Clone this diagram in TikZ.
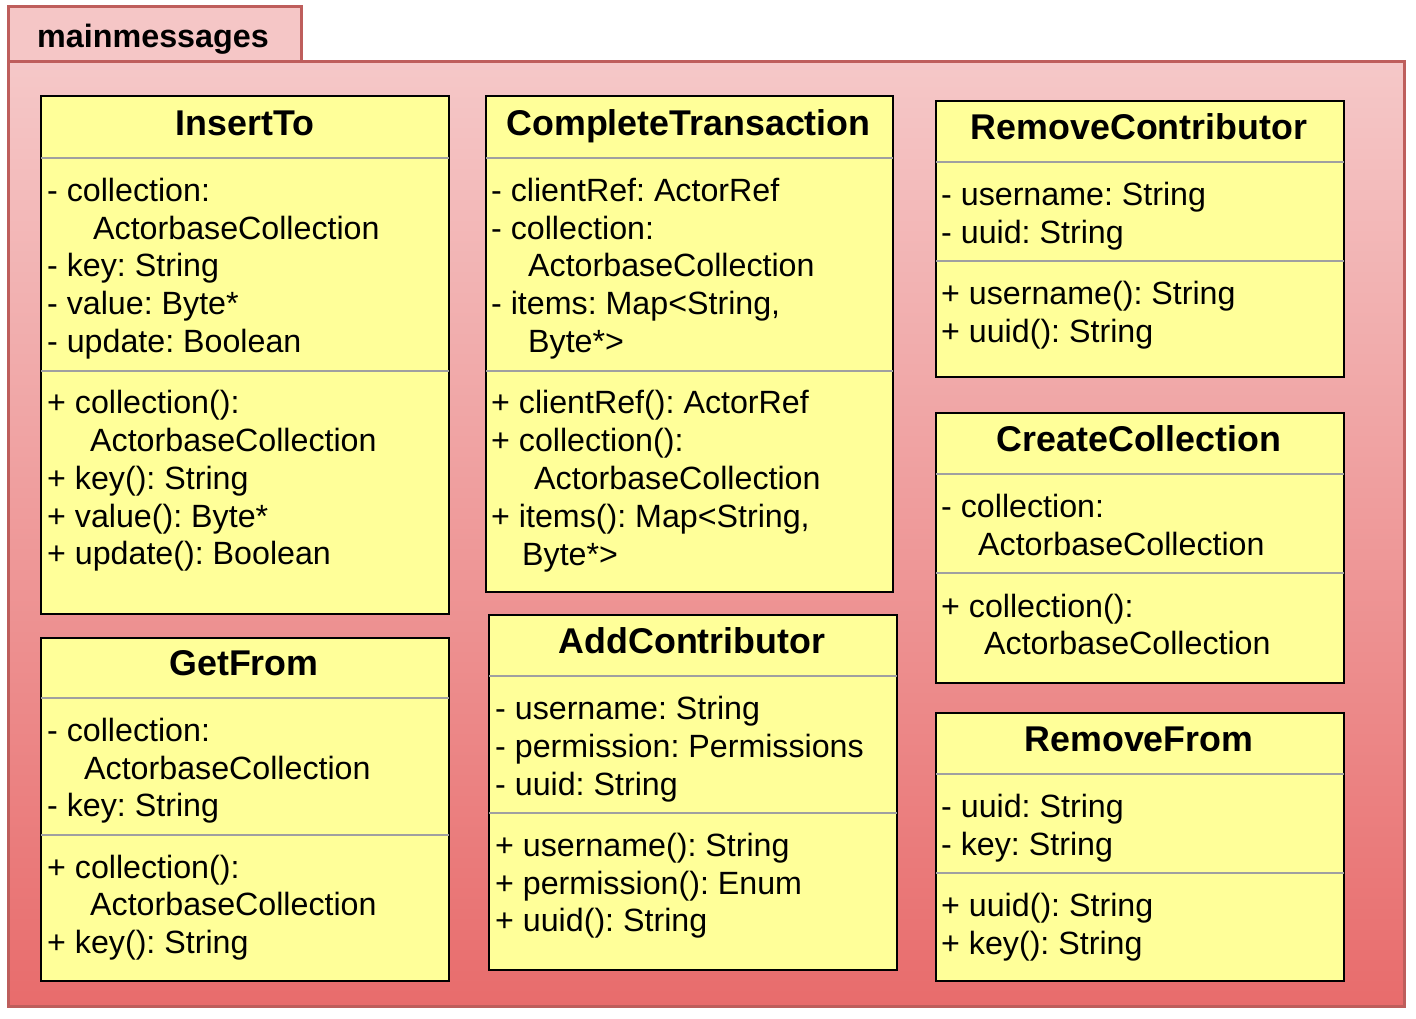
\documentclass[tikz,border=0pt]{standalone}
\usepackage{fontspec}
\setmainfont{Liberation Sans}
\frenchspacing
\definecolor{pkgtop}{HTML}{F5C8C8}
\definecolor{pkgbot}{HTML}{E86C6C}
\definecolor{pkgline}{HTML}{BE5E5C}
\definecolor{tabfill}{HTML}{F5C6C6}
\definecolor{boxfill}{HTML}{FFFF99}
\definecolor{sepgray}{HTML}{A0A0A0}
\begin{document}
\begin{tikzpicture}[x=1pt,y=-1pt,
  pkgbody/.style={draw=pkgline,line width=3pt,top color=pkgtop,bottom color=pkgbot,anchor=north west,inner sep=0pt,outer sep=0pt},
  pkgtab/.style={draw=pkgline,line width=3pt,fill=tabfill,anchor=north west,inner sep=0pt,outer sep=0pt},
  umlbox/.style={draw=black,line width=2.4pt,fill=boxfill,anchor=north west,inner sep=0pt,outer sep=0pt},
  sepline/.style={draw=sepgray,line width=1.8pt},
  ttl/.style={font=\fontsize{35.8}{38}\selectfont\bfseries\frenchspacing,anchor=base,inner sep=0pt},
  tabtxt/.style={font=\fontsize{32.3}{38}\selectfont\bfseries,anchor=base west,inner sep=0pt},
  txt/.style={font=\fontsize{32.2}{38}\selectfont\frenchspacing,anchor=base west,inner sep=0pt}]
\useasboundingbox (0,0) rectangle (1416,1018);
% package
\node[pkgbody,minimum width=1396pt,minimum height=945pt] (pkg) at (8,61) {};
\node[pkgtab,minimum width=293pt,minimum height=55pt] (tab) at (8,6) {};
\node[tabtxt] (tablabel) at (37,47) {mainmessages};

% InsertTo
\node[umlbox,minimum width=408pt,minimum height=518pt] (ins) at (41,96) {};
\draw[sepline] (ins.west |- 0,158) -- (ins.east |- 0,158);
\draw[sepline] (ins.west |- 0,371) -- (ins.east |- 0,371);
\node[ttl] (insT) at (245,135) {InsertTo};
\node[txt] (ins1) at (47,201) {- collection:};
\node[txt] (ins2) at (93,239) {ActorbaseCollection};
\node[txt] (ins3) at (47,276) {- key: String};
\node[txt] (ins4) at (47,314) {- value: Byte*};
\node[txt] (ins5) at (47,352) {- update: Boolean};
\node[txt] (ins6) at (47,413) {+ collection():};
\node[txt] (ins7) at (90,451) {ActorbaseCollection};
\node[txt] (ins8) at (47,489) {+ key(): String};
\node[txt] (ins9) at (47,527) {+ value(): Byte*};
\node[txt] (ins10) at (47,564) {+ update(): Boolean};

% CompleteTransaction
\node[umlbox,minimum width=407pt,minimum height=496pt] (ct) at (486,96) {};
\draw[sepline] (ct.west |- 0,158) -- (ct.east |- 0,158);
\draw[sepline] (ct.west |- 0,371) -- (ct.east |- 0,371);
\node[ttl] (ctT) at (688.5,135) {CompleteTransaction};
\node[txt] (ct1) at (491,201) {- clientRef: ActorRef};
\node[txt] (ct2) at (491,239) {- collection:};
\node[txt] (ct3) at (528,276) {ActorbaseCollection};
\node[txt] (ct4) at (491,314) {- items: Map<String,};
\node[txt] (ct5) at (528,352) {Byte*>};
\node[txt] (ct6) at (491,413) {+ clientRef(): ActorRef};
\node[txt] (ct7) at (491,451) {+ collection():};
\node[txt] (ct8) at (534,489) {ActorbaseCollection};
\node[txt] (ct9) at (491,527) {+ items(): Map<String,};
\node[txt] (ct10) at (522,565) {Byte*>};

% RemoveContributor
\node[umlbox,minimum width=408pt,minimum height=276pt] (rc) at (936,101) {};
\draw[sepline] (rc.west |- 0,162) -- (rc.east |- 0,162);
\draw[sepline] (rc.west |- 0,261) -- (rc.east |- 0,261);
\node[ttl] (rcT) at (1139,139) {RemoveContributor};
\node[txt] (rc1) at (941,205) {- username: String};
\node[txt] (rc2) at (941,243) {- uuid: String};
\node[txt] (rc3) at (941,304) {+ username(): String};
\node[txt] (rc4) at (941,342) {+ uuid(): String};

% CreateCollection
\node[umlbox,minimum width=408pt,minimum height=270pt] (cc) at (936,413) {};
\draw[sepline] (cc.west |- 0,474) -- (cc.east |- 0,474);
\draw[sepline] (cc.west |- 0,573) -- (cc.east |- 0,573);
\node[ttl] (ccT) at (1139,451) {CreateCollection};
\node[txt] (cc1) at (941,517) {- collection:};
\node[txt] (cc2) at (978,555) {ActorbaseCollection};
\node[txt] (cc3) at (941,617) {+ collection():};
\node[txt] (cc4) at (984,654) {ActorbaseCollection};

% RemoveFrom
\node[umlbox,minimum width=408pt,minimum height=268pt] (rf) at (936,713) {};
\draw[sepline] (rf.west |- 0,774) -- (rf.east |- 0,774);
\draw[sepline] (rf.west |- 0,873) -- (rf.east |- 0,873);
\node[ttl] (rfT) at (1139,751) {RemoveFrom};
\node[txt] (rf1) at (941,817) {- uuid: String};
\node[txt] (rf2) at (941,855) {- key: String};
\node[txt] (rf3) at (941,916) {+ uuid(): String};
\node[txt] (rf4) at (941,954) {+ key(): String};

% GetFrom
\node[umlbox,minimum width=408pt,minimum height=343pt] (gf) at (41,638) {};
\draw[sepline] (gf.west |- 0,698) -- (gf.east |- 0,698);
\draw[sepline] (gf.west |- 0,835) -- (gf.east |- 0,835);
\node[ttl] (gfT) at (244,675) {GetFrom};
\node[txt] (gf1) at (47,741) {- collection:};
\node[txt] (gf2) at (84,779) {ActorbaseCollection};
\node[txt] (gf3) at (47,816) {- key: String};
\node[txt] (gf4) at (47,878) {+ collection():};
\node[txt] (gf5) at (90,915) {ActorbaseCollection};
\node[txt] (gf6) at (47,953) {+ key(): String};

% AddContributor
\node[umlbox,minimum width=408pt,minimum height=355pt] (ac) at (489,615) {};
\draw[sepline] (ac.west |- 0,676) -- (ac.east |- 0,676);
\draw[sepline] (ac.west |- 0,813) -- (ac.east |- 0,813);
\node[ttl] (acT) at (692,653) {AddContributor};
\node[txt] (ac1) at (495,719) {- username: String};
\node[txt] (ac2) at (495,757) {- permission: Permissions};
\node[txt] (ac3) at (495,795) {- uuid: String};
\node[txt] (ac4) at (495,856) {+ username(): String};
\node[txt] (ac5) at (495,894) {+ permission(): Enum};
\node[txt] (ac6) at (495,931) {+ uuid(): String};
\end{tikzpicture}
\end{document}
